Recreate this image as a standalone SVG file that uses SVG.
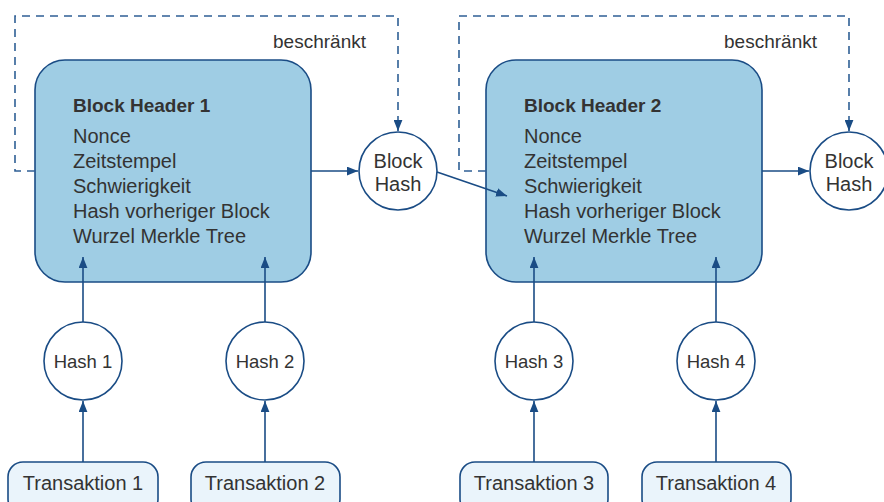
<svg xmlns="http://www.w3.org/2000/svg" width="884" height="502" viewBox="0 0 884 502">
  <style>
    text { font-family: "Liberation Sans", Arial, sans-serif; fill: #333333; }
    .hdr { fill: #9fcde4; stroke: #1a4c85; stroke-width: 1.6; }
    .circ { fill: #ffffff; stroke: #1a4c85; stroke-width: 1.6; }
    .tx { fill: #eaf4fb; stroke: #1a4c85; stroke-width: 1.6; }
    .title { font-size: 19px; font-weight: bold; }
    .field { font-size: 20px; }
    .lbl { font-size: 18.5px; text-anchor: middle; }
    .bh { font-size: 20px; text-anchor: middle; }
    .txl { font-size: 20px; text-anchor: middle; }
    .note { font-size: 19px; text-anchor: end; }
    .edge { fill: none; stroke: #1a4c85; stroke-width: 1.6; }
    .dash { fill: none; stroke: #2f5f95; stroke-width: 1.6; stroke-dasharray: 8 6; }
  </style>
  <defs>
    <marker id="arrow" viewBox="0 0 10 8" refX="10" refY="4" markerWidth="11" markerHeight="9" markerUnits="userSpaceOnUse" orient="auto">
      <path d="M0,0 L10,4 L0,8 z" fill="#1a4c85"/>
    </marker>
  </defs>

  <!-- block headers -->
  <g id="header1">
    <rect class="hdr" x="35" y="60" width="276" height="222" rx="30"/>
    <text class="title" x="73" y="112">Block Header 1</text>
    <text class="field" x="73" y="143">Nonce</text>
    <text class="field" x="73" y="168">Zeitstempel</text>
    <text class="field" x="73" y="193">Schwierigkeit</text>
    <text class="field" x="73" y="218">Hash vorheriger Block</text>
    <text class="field" x="73" y="243">Wurzel Merkle Tree</text>
  </g>
  <g id="header2">
    <rect class="hdr" x="486" y="60" width="276" height="222" rx="30"/>
    <text class="title" x="524" y="112">Block Header 2</text>
    <text class="field" x="524" y="143">Nonce</text>
    <text class="field" x="524" y="168">Zeitstempel</text>
    <text class="field" x="524" y="193">Schwierigkeit</text>
    <text class="field" x="524" y="218">Hash vorheriger Block</text>
    <text class="field" x="524" y="243">Wurzel Merkle Tree</text>
  </g>

  <!-- connectors -->
  <g id="connectors">
    <!-- "beschränkt" feedback loops -->
    <path class="dash" d="M35,171 H15 V16 H398 V122"/>
    <path class="edge" d="M398,120 V131" marker-end="url(#arrow)"/>
    <path class="dash" d="M486,171 H459 V16 H849 V122"/>
    <path class="edge" d="M849,120 V131" marker-end="url(#arrow)"/>
    <text class="note" x="366" y="48">beschränkt</text>
    <text class="note" x="817" y="48">beschränkt</text>

    <!-- header to block hash -->
    <path class="edge" d="M311,171 H358" marker-end="url(#arrow)"/>
    <path class="edge" d="M762,171 H809" marker-end="url(#arrow)"/>
    <!-- block hash 1 feeds header 2 -->
    <path class="edge" d="M437,172 L507,196" marker-end="url(#arrow)"/>

    <!-- hashes to headers -->
    <path class="edge" d="M83,322 V257" marker-end="url(#arrow)"/>
    <path class="edge" d="M265,322 V257" marker-end="url(#arrow)"/>
    <path class="edge" d="M534,322 V257" marker-end="url(#arrow)"/>
    <path class="edge" d="M716,322 V257" marker-end="url(#arrow)"/>

    <!-- transactions to hashes -->
    <path class="edge" d="M83,462 V401" marker-end="url(#arrow)"/>
    <path class="edge" d="M265,462 V401" marker-end="url(#arrow)"/>
    <path class="edge" d="M534,462 V401" marker-end="url(#arrow)"/>
    <path class="edge" d="M716,462 V401" marker-end="url(#arrow)"/>
  </g>

  <!-- block hashes -->
  <g id="blockhash1">
    <circle class="circ" cx="398" cy="171" r="39"/>
    <text class="bh" x="398" y="168">Block</text>
    <text class="bh" x="398" y="191">Hash</text>
  </g>
  <g id="blockhash2">
    <circle class="circ" cx="849" cy="171" r="39"/>
    <text class="bh" x="849" y="168">Block</text>
    <text class="bh" x="849" y="191">Hash</text>
  </g>

  <!-- transaction hashes -->
  <g id="hash1">
    <circle class="circ" cx="83" cy="361" r="39"/>
    <text class="lbl" x="83" y="368">Hash 1</text>
  </g>
  <g id="hash2">
    <circle class="circ" cx="265" cy="361" r="39"/>
    <text class="lbl" x="265" y="368">Hash 2</text>
  </g>
  <g id="hash3">
    <circle class="circ" cx="534" cy="361" r="39"/>
    <text class="lbl" x="534" y="368">Hash 3</text>
  </g>
  <g id="hash4">
    <circle class="circ" cx="716" cy="361" r="39"/>
    <text class="lbl" x="716" y="368">Hash 4</text>
  </g>

  <!-- transactions -->
  <g id="tx1">
    <rect class="tx" x="8" y="462" width="150" height="52" rx="15"/>
    <text class="txl" x="83" y="490">Transaktion 1</text>
  </g>
  <g id="tx2">
    <rect class="tx" x="191" y="462" width="149" height="52" rx="15"/>
    <text class="txl" x="265" y="490">Transaktion 2</text>
  </g>
  <g id="tx3">
    <rect class="tx" x="460" y="462" width="148" height="52" rx="15"/>
    <text class="txl" x="534" y="490">Transaktion 3</text>
  </g>
  <g id="tx4">
    <rect class="tx" x="642" y="462" width="149" height="52" rx="15"/>
    <text class="txl" x="716" y="490">Transaktion 4</text>
  </g>
</svg>
